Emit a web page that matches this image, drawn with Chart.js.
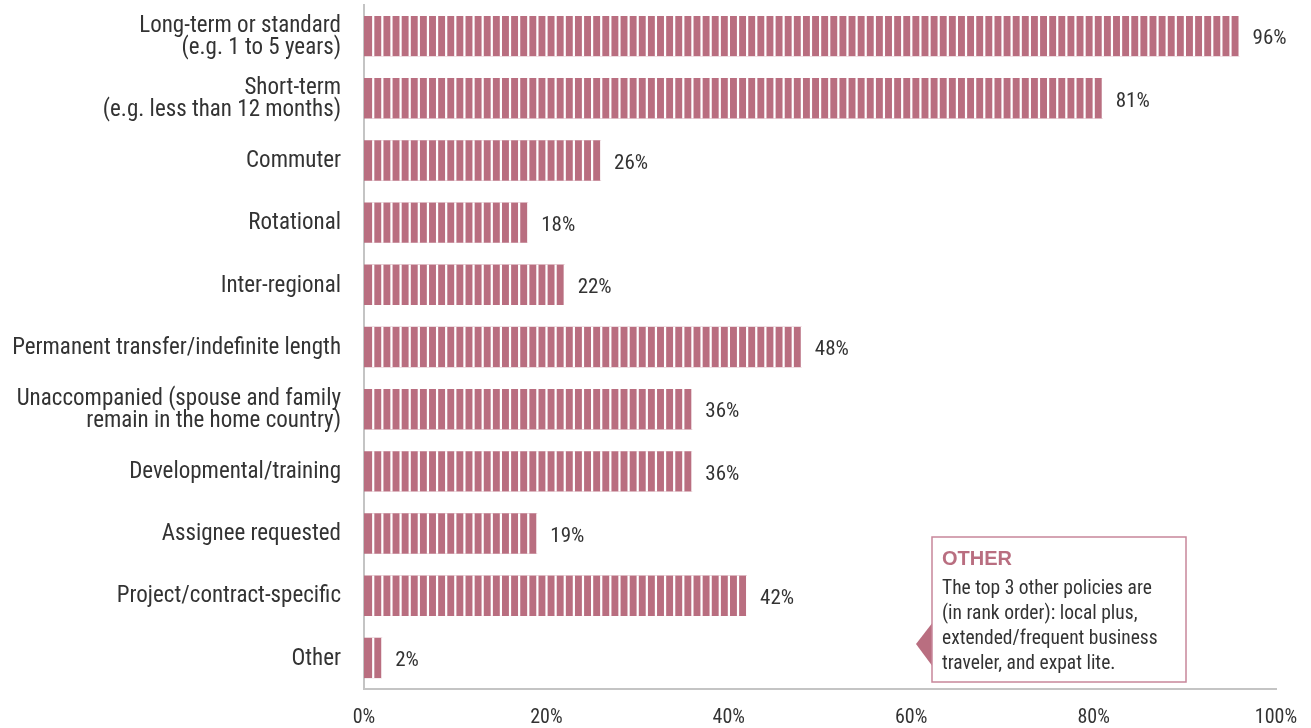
<!DOCTYPE html>
<html>
<head>
<meta charset="utf-8">
<script src="https://cdn.jsdelivr.net/npm/chart.js@4.4.1/dist/chart.umd.min.js"></script>
<style>
  html, body { margin: 0; padding: 0; background: #fff; }
  #wrap { width: 1311px; height: 728px; position: relative; }
</style>
</head>
<body>
<div id="wrap"><canvas id="chart"></canvas></div>
<script>
const CATEGORIES = [
  ['Long-term or standard', '(e.g. 1 to 5 years)'],
  ['Short-term', '(e.g. less than 12 months)'],
  'Commuter',
  'Rotational',
  'Inter-regional',
  'Permanent transfer/indefinite length',
  ['Unaccompanied (spouse and family', 'remain in the home country)'],
  'Developmental/training',
  'Assignee requested',
  'Project/contract-specific',
  'Other',
];
const VALUES = [96, 81, 26, 18, 22, 48, 36, 36, 19, 42, 2];
const X_TICKS = [0, 20, 40, 60, 80, 100];
const NOTE_TITLE = 'OTHER';
const NOTE_LINES = [
  'The top 3 other policies are',
  '(in rank order): local plus,',
  'extended/frequent business',
  'traveler, and expat lite.',
];

const FONT = "'Roboto Condensed', 'Liberation Sans Narrow', 'DejaVu Sans Condensed', sans-serif";
const BAR = '#b96e80';
const TEXT = '#333333';

function el(id) { return document.getElementById(id); }

// each bar is cut into 1% slices: a thin white gap at every whole percent
const stripes = {
  id: 'stripes',
  afterDatasetsDraw(chart) {
    const { ctx } = chart;
    const xs = chart.scales.x;
    const meta = chart.getDatasetMeta(0);
    ctx.save();
    ctx.fillStyle = '#ffffff';
    meta.data.forEach((bar, i) => {
      const { y, height } = bar.getProps(['y', 'height'], true);
      const top = y - height / 2;
      for (let k = 1; k <= VALUES[i]; k++) {
        const px = xs.getPixelForValue(k);
        ctx.fillRect(px - 1, top, 2.2, height);
      }
    });
    ctx.restore();
  }
};

const valueLabels = {
  id: 'valueLabels',
  afterDatasetsDraw(chart) {
    const { ctx } = chart;
    const meta = chart.getDatasetMeta(0);
    ctx.save();
    ctx.font = `21px ${FONT}`;
    ctx.fillStyle = TEXT;
    ctx.textAlign = 'left';
    ctx.textBaseline = 'middle';
    meta.data.forEach((bar, i) => {
      ctx.fillText(`${VALUES[i]}%`, bar.x + 13, bar.y + 3);
    });
    ctx.restore();
  }
};

// category labels, drawn at the y scale's tick positions
const catLabels = {
  id: 'catLabels',
  afterDraw(chart) {
    const { ctx } = chart;
    const ys = chart.scales.y;
    ctx.save();
    ctx.font = `23px ${FONT}`;
    ctx.fillStyle = TEXT;
    ctx.textAlign = 'right';
    ctx.textBaseline = 'middle';
    CATEGORIES.forEach((lab, i) => {
      const lines = Array.isArray(lab) ? lab : [lab];
      const y0 = ys.getPixelForTick(i) - (lines.length - 1) * 11 + 1;
      lines.forEach((t, k) => ctx.fillText(t, ys.right - 23, y0 + k * 22));
    });
    ctx.restore();
  }
};

const noteBox = {
  id: 'noteBox',
  afterDraw(chart) {
    const { ctx } = chart;
    const x = 932, y = 537, w = 254, h = 145;
    ctx.save();
    ctx.fillStyle = BAR;
    ctx.beginPath();
    ctx.moveTo(x + 1, 622);
    ctx.lineTo(916, 644);
    ctx.lineTo(x + 1, 667);
    ctx.closePath();
    ctx.fill();
    ctx.fillStyle = '#fff';
    ctx.fillRect(x, y, w, h);
    ctx.strokeStyle = '#c7879a';
    ctx.lineWidth = 1.5;
    ctx.strokeRect(x, y, w, h);
    ctx.textAlign = 'left';
    ctx.textBaseline = 'middle';
    ctx.fillStyle = BAR;
    ctx.font = "bold 20px 'Liberation Sans', Arial, sans-serif";
    ctx.fillText(NOTE_TITLE, x + 10, 559);
    ctx.fillStyle = TEXT;
    ctx.font = `19.5px ${FONT}`;
    NOTE_LINES.forEach((t, i) => ctx.fillText(t, x + 10, 589 + i * 25));
    ctx.restore();
  }
};

new Chart(el('chart').getContext('2d'), {
  type: 'bar',
  data: {
    labels: CATEGORIES,
    datasets: [{
      data: VALUES,
      backgroundColor: BAR,
      borderWidth: 0,
      barPercentage: 0.65,
      categoryPercentage: 1,
    }]
  },
  options: {
    indexAxis: 'y',
    responsive: true,
    maintainAspectRatio: false,
    animation: false,
    layout: { padding: { left: 0, right: 35, top: 5, bottom: 0 } },
    plugins: { legend: { display: false }, tooltip: { enabled: false } },
    scales: {
      x: {
        min: 0, max: 100,
        afterBuildTicks: s => { s.ticks = X_TICKS.map(v => ({ value: v })); },
        afterFit: s => { s.height = 39; s.paddingLeft = 0; s.paddingRight = 0; },
        grid: { display: false },
        border: { display: true, color: '#c4c4c4', width: 2 },
        ticks: { color: TEXT, font: { family: FONT, size: 20, lineHeight: 1 }, padding: 11, callback: v => `${v}%` },
      },
      y: {
        afterFit: s => { s.width = 364; s.paddingTop = 0; s.paddingBottom = 0; },
        grid: { display: false },
        border: { display: true, color: '#c4c4c4', width: 2 },
        ticks: { display: false },
      },
    },
  },
  plugins: [stripes, valueLabels, catLabels, noteBox],
});
</script>
</body>
</html>
